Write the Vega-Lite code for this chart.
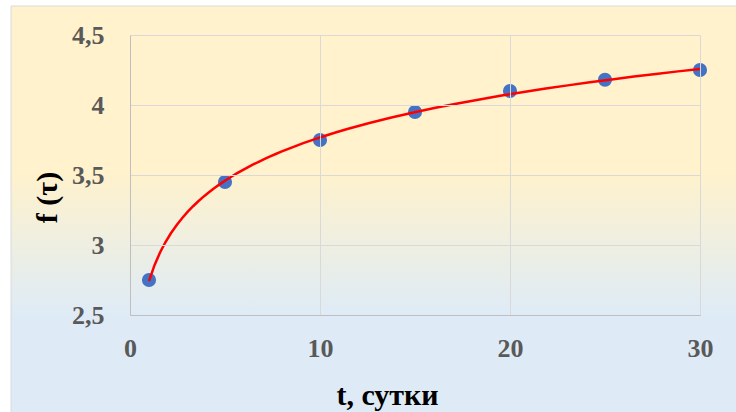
{
  "$schema": "https://vega.github.io/schema/vega-lite/v6.json",
  "width": 570,
  "height": 280,
  "autosize": "none",
  "padding": {"left": 130, "top": 35, "right": 36, "bottom": 97},
  "background": "white",
  "config": {
    "view": {"stroke": null}
  },
  "data": {
    "values": [
      {"t": 1, "f": 2.75},
      {"t": 5, "f": 3.45},
      {"t": 10, "f": 3.75},
      {"t": 15, "f": 3.95},
      {"t": 20, "f": 4.10},
      {"t": 25, "f": 4.18},
      {"t": 30, "f": 4.25}
    ]
  },
  "layer": [
    {
      "data": {"values": [{}]},
      "mark": {
        "type": "rect",
        "clip": false,
        "stroke": "#D9D9D9",
        "strokeWidth": 1,
        "fill": {
          "gradient": "linear",
          "x1": 0, "y1": 0, "x2": 0, "y2": 1,
          "stops": [
            {"offset": 0, "color": "#FFF2CC"},
            {"offset": 0.4, "color": "#FFF2CC"},
            {"offset": 0.75, "color": "#DEEBF7"},
            {"offset": 1, "color": "#DEEBF7"}
          ]
        }
      },
      "encoding": {
        "x": {"datum": -6.26, "type": "quantitative",
          "scale": {"domain": [0, 30], "nice": false, "zero": false},
          "axis": {
            "zindex": 1,
            "values": [0, 10, 20, 30],
            "grid": true, "gridColor": "#D9D9D9", "gridWidth": 1,
            "domainColor": "#BFBFBF", "domainWidth": 1,
            "ticks": false,
            "labelFlush": false,
            "labelOverlap": false,
            "labelFont": "Times New Roman, Liberation Serif, serif",
            "labelFontWeight": "bold",
            "labelFontSize": 26,
            "labelColor": "#595959",
            "labelPadding": 20,
            "title": "t, сутки",
            "titleFont": "Times New Roman, Liberation Serif, serif",
            "titleFontWeight": "bold",
            "titleFontSize": 30,
            "titleColor": "#000000",
            "titleX": 257,
            "titleY": 80,
            "titleBaseline": "middle"
          }},
        "x2": {"datum": 33},
        "y": {"datum": 4.707, "type": "quantitative",
          "scale": {"domain": [2.5, 4.5], "nice": false, "zero": false},
          "axis": {
            "zindex": 1,
            "values": [2.5, 3, 3.5, 4, 4.5],
            "grid": true, "gridColor": "#D9D9D9", "gridWidth": 1,
            "domainColor": "#BFBFBF", "domainWidth": 1,
            "ticks": false,
            "labelFlush": false,
            "labelOverlap": false,
            "labelExpr": "replace(format(datum.value, '~g'), '.', ',')",
            "labelFont": "Times New Roman, Liberation Serif, serif",
            "labelFontWeight": "bold",
            "labelFontSize": 26,
            "labelColor": "#595959",
            "labelPadding": 26,
            "title": "f (τ)",
            "titleFont": "Times New Roman, Liberation Serif, serif",
            "titleFontWeight": "bold",
            "titleFontSize": 30,
            "titleColor": "#000000",
            "titleX": -83,
            "titleY": 162,
            "titleBaseline": "middle"
          }},
        "y2": {"datum": 1.75}
      }
    },
    {
      "mark": {"type": "point", "filled": true, "color": "#4472C4", "opacity": 1, "size": 200},
      "encoding": {
        "x": {"field": "t", "type": "quantitative"},
        "y": {"field": "f", "type": "quantitative"}
      }
    },
    {
      "transform": [{"regression": "f", "on": "t", "method": "log"}],
      "mark": {"type": "line", "color": "#FF0000", "strokeWidth": 2.5},
      "encoding": {
        "x": {"field": "t", "type": "quantitative"},
        "y": {"field": "f", "type": "quantitative"}
      }
    }
  ]
}
